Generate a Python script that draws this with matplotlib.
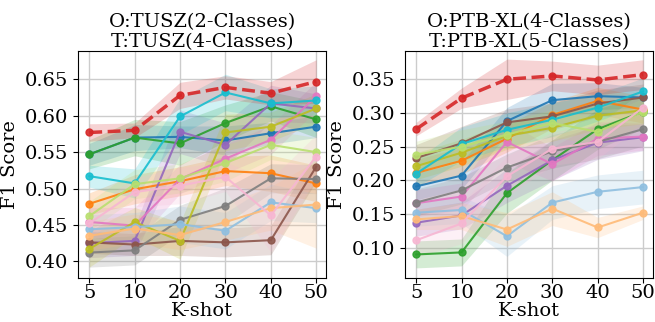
import matplotlib
matplotlib.use("Agg")
import matplotlib.pyplot as plt
import numpy as np

k_shots = ["5", "10", "20", "30", "40", "50"]
titles = ["O:TUSZ(2-Classes)\nT:TUSZ(4-Classes)", "O:PTB-XL(4-Classes)\nT:PTB-XL(5-Classes)"]

colors = ["#1f77b4", "#ff7f0e", "#2ca02c", "#9467bd", "#8c564b", "#e377c2",
          "#7f7f7f", "#bcbd22", "#17becf", "#8fbfe0", "#ffbb78", "#b9df6f", "#f7b6d2"]

# Left panel (TUSZ)
ours_left = [0.577, 0.580, 0.628, 0.639, 0.631, 0.647]
ours_left_std = [0.012, 0.010, 0.018, 0.016, 0.016, 0.030]
left_means = [
    [0.547, 0.570, 0.571, 0.566, 0.576, 0.585],  # blue
    [0.479, 0.499, 0.510, 0.524, 0.521, 0.507],  # orange
    [0.547, 0.570, 0.562, 0.590, 0.613, 0.595],  # green
    [0.425, 0.428, 0.578, 0.560, 0.617, 0.610],  # purple
    [0.426, 0.423, 0.428, 0.426, 0.429, 0.530],  # brown
    [0.454, 0.449, 0.513, 0.541, 0.567, 0.627],  # pink
    [0.412, 0.415, 0.457, 0.476, 0.514, 0.513],  # gray
    [0.417, 0.454, 0.428, 0.577, 0.585, 0.610],  # olive
    [0.517, 0.507, 0.599, 0.632, 0.617, 0.621],  # cyan
    [0.444, 0.447, 0.451, 0.442, 0.481, 0.473],  # light blue
    [0.435, 0.445, 0.436, 0.454, 0.473, 0.478],  # light orange
    [0.462, 0.506, 0.514, 0.535, 0.560, 0.550],  # light green
    [0.452, 0.495, 0.504, 0.516, 0.463, 0.544],  # light pink
]
left_stds = [
    [0.015, 0.018, 0.015, 0.020, 0.015, 0.015],
    [0.015, 0.020, 0.020, 0.020, 0.025, 0.025],
    [0.020, 0.025, 0.030, 0.025, 0.020, 0.025],
    [0.020, 0.020, 0.030, 0.030, 0.025, 0.020],
    [0.015, 0.015, 0.020, 0.020, 0.020, 0.020],
    [0.020, 0.025, 0.020, 0.020, 0.020, 0.020],
    [0.020, 0.020, 0.020, 0.025, 0.020, 0.020],
    [0.025, 0.020, 0.025, 0.025, 0.020, 0.020],
    [0.015, 0.020, 0.025, 0.025, 0.020, 0.020],
    [0.020, 0.020, 0.025, 0.025, 0.025, 0.020],
    [0.020, 0.020, 0.020, 0.025, 0.030, 0.060],
    [0.020, 0.020, 0.020, 0.025, 0.020, 0.020],
    [0.020, 0.020, 0.025, 0.020, 0.050, 0.030],
]

# Right panel (PTB-XL)
ours_right = [0.276, 0.322, 0.350, 0.355, 0.349, 0.357]
ours_right_std = [0.010, 0.015, 0.030, 0.022, 0.022, 0.022]
right_means = [
    [0.191, 0.207, 0.288, 0.319, 0.325, 0.323],  # blue
    [0.211, 0.229, 0.262, 0.297, 0.318, 0.305],  # orange
    [0.090, 0.093, 0.181, 0.230, 0.276, 0.302],  # green
    [0.137, 0.148, 0.192, 0.230, 0.256, 0.264],  # purple
    [0.233, 0.255, 0.286, 0.295, 0.314, 0.323],  # brown
    [0.166, 0.176, 0.257, 0.224, 0.262, 0.265],  # pink
    [0.167, 0.185, 0.219, 0.243, 0.257, 0.276],  # gray
    [0.221, 0.241, 0.266, 0.278, 0.296, 0.304],  # olive
    [0.210, 0.254, 0.275, 0.290, 0.308, 0.332],  # cyan
    [0.152, 0.156, 0.117, 0.167, 0.183, 0.190],  # light blue
    [0.142, 0.147, 0.127, 0.158, 0.130, 0.152],  # light orange
    [0.238, 0.250, 0.268, 0.285, 0.272, 0.302],  # light green
    [0.111, 0.136, 0.206, 0.247, 0.257, 0.308],  # light pink
]
right_stds = [
    [0.020, 0.020, 0.020, 0.025, 0.020, 0.015],
    [0.020, 0.020, 0.020, 0.020, 0.020, 0.020],
    [0.020, 0.020, 0.030, 0.030, 0.030, 0.025],
    [0.020, 0.020, 0.025, 0.030, 0.025, 0.020],
    [0.020, 0.025, 0.020, 0.020, 0.020, 0.020],
    [0.020, 0.020, 0.030, 0.025, 0.025, 0.020],
    [0.020, 0.020, 0.020, 0.025, 0.025, 0.025],
    [0.020, 0.020, 0.020, 0.020, 0.020, 0.020],
    [0.020, 0.025, 0.025, 0.025, 0.020, 0.020],
    [0.020, 0.020, 0.030, 0.025, 0.025, 0.025],
    [0.015, 0.020, 0.025, 0.025, 0.015, 0.010],
    [0.020, 0.025, 0.020, 0.020, 0.020, 0.020],
    [0.025, 0.030, 0.030, 0.025, 0.025, 0.025],
]

plt.rcParams['font.family'] = 'DejaVu Serif'
fig = plt.figure(figsize=(6.55, 3.22), dpi=100)
ax1 = fig.add_axes([0.119, 0.1366, 0.379, 0.705])
ax2 = fig.add_axes([0.618, 0.1366, 0.379, 0.705])

x = np.arange(len(k_shots))
panels = [
    (ax1, left_means, left_stds, ours_left, ours_left_std, (0.377, 0.689), [0.40, 0.45, 0.50, 0.55, 0.60, 0.65]),
    (ax2, right_means, right_stds, ours_right, ours_right_std, (0.055, 0.392), [0.10, 0.15, 0.20, 0.25, 0.30, 0.35]),
]
for i, (ax, means, stds, ours, ours_std, ylim, yt) in enumerate(panels):
    for m, s, c in zip(means, stds, colors):
        m = np.array(m); s = np.array(s)
        ax.fill_between(x, m - s, m + s, color=c, alpha=0.2, linewidth=0)
        ax.plot(x, m, color=c, marker='o', markersize=5, linewidth=1.5, alpha=0.9)
    o = np.array(ours); os_ = np.array(ours_std)
    ax.fill_between(x, o - os_, o + os_, color='#d62728', alpha=0.2, linewidth=0)
    ax.plot(x, o, color='#d62728', marker='o', markersize=5, linewidth=2.5, linestyle='--', alpha=0.9)
    ax.set_xticks(x)
    ax.set_xticklabels(k_shots)
    ax.set_xlim(-0.25, 5.22)
    ax.set_ylim(*ylim)
    ax.set_yticks(yt)
    ax.set_yticklabels([f"{v:.2f}" for v in yt])
    ax.grid(True, color='#cccccc', linewidth=1.0)
    ax.set_axisbelow(True)
    ax.tick_params(labelsize=14, length=3.5)
    ax.tick_params(axis='x', pad=1)
    ax.set_xlabel("K-shot", fontsize=14, labelpad=0)
    ax.set_ylabel("F1 Score", fontsize=14, labelpad=4)
    ax.set_title(titles[i], fontsize=14, linespacing=1.12, pad=3)

fig.savefig("out.png", dpi=100)
